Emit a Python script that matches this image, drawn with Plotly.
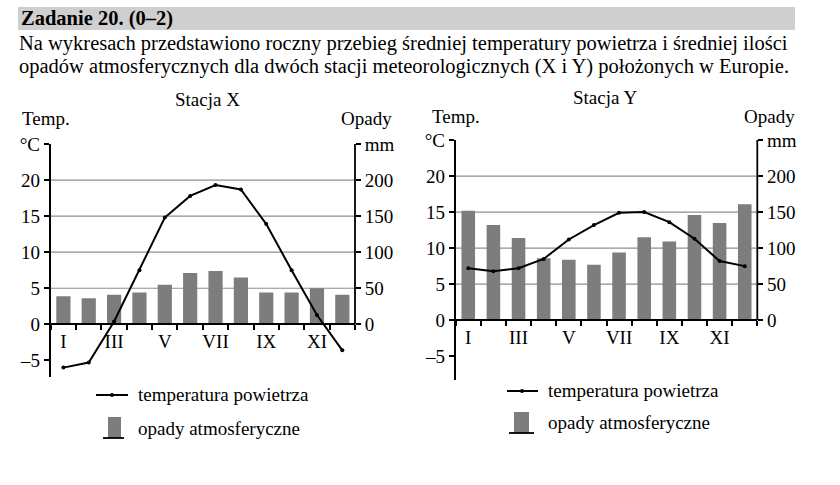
import plotly.graph_objects as go

W, H = 840, 485
FONT = "Liberation Serif, Times New Roman, serif"

months = ["I", "II", "III", "IV", "V", "VI", "VII", "VIII", "IX", "X", "XI", "XII"]
month_labels = ["I", "", "III", "", "V", "", "VII", "", "IX", "", "XI", ""]

temp_x = [-6.0, -5.3, 0.4, 7.5, 14.8, 17.8, 19.3, 18.7, 13.9, 7.5, 1.3, -3.6]
precip_x = [39, 36, 41, 44, 55, 71, 74, 65, 44, 44, 50, 41]

temp_y = [7.2, 6.8, 7.2, 8.5, 11.2, 13.2, 14.9, 15.0, 13.6, 11.3, 8.2, 7.5]
precip_y = [152, 132, 114, 86, 84, 77, 94, 115, 109, 146, 135, 161]

temp_ticks = [-5, 0, 5, 10, 15, 20, 25]
temp_ticktext = ["\u20135", "0", "5", "10", "15", "20", "\u00b0C"]
precip_ticks = [0, 50, 100, 150, 200, 250]
precip_ticktext = ["0", "50", "100", "150", "200", "mm"]
grid_vals = [5, 10, 15, 20]

BAR_COLOR = "#7d7d7d"
GRID_COLOR = "#8f8f8f"


def px(x):
    return x / W


def py(y):
    return 1 - y / H


fig = go.Figure()

# Station X
fig.add_trace(go.Bar(x=months, y=precip_x, xaxis="x", yaxis="y", marker_color=BAR_COLOR,
                     marker_line_width=0, width=0.56, showlegend=False))
fig.add_trace(go.Scatter(x=months, y=temp_x, xaxis="x", yaxis="y2", mode="lines+markers",
                         line=dict(color="black", width=2), marker=dict(color="black", size=4),
                         showlegend=False))
# Station Y
fig.add_trace(go.Bar(x=months, y=precip_y, xaxis="x2", yaxis="y3", marker_color=BAR_COLOR,
                     marker_line_width=0, width=0.54, showlegend=False))
fig.add_trace(go.Scatter(x=months, y=temp_y, xaxis="x2", yaxis="y4", mode="lines+markers",
                         line=dict(color="black", width=2), marker=dict(color="black", size=4),
                         showlegend=False))

tickfont = dict(family=FONT, size=19, color="black")

panels = [
    ("xaxis", "yaxis", "yaxis2", "x", "y", "y2", (50.7, 355), (144, 377), 324.3, -7.3),
    ("xaxis2", "yaxis3", "yaxis4", "x2", "y3", "y4", (455.7, 757.3), (140, 380), 320, -8.3),
]

layout = dict(
    width=W, height=H, margin=dict(l=0, r=0, t=0, b=0, pad=0, autoexpand=False),
    paper_bgcolor="white", plot_bgcolor="rgba(0,0,0,0)",
    font=dict(family=FONT, color="black"), showlegend=False, barmode="overlay",
)
shapes = []
annotations = []

for xa, ya_p, ya_t, xr, yr_p, yr_t, (xl, xrgt), (yt, yb), xpos, tbot in panels:
    layout[xa] = dict(
        domain=[px(xl), px(xrgt)], anchor="free", position=py(xpos),
        type="category", range=[-0.5, 11.5],
        tickmode="array", tickvals=months, ticktext=month_labels, tickson="boundaries",
        tickangle=0, automargin=False,
        ticks="outside", ticklen=5, tickwidth=1.5, tickcolor="black",
        showline=True, linecolor="black", linewidth=1.8, showgrid=False, zeroline=False,
        tickfont=tickfont, fixedrange=True,
    )
    layout[ya_p] = dict(
        domain=[py(yb), py(yt)], anchor=xr, side="right", automargin=False,
        range=[tbot * 10, 250], tickmode="array", tickvals=precip_ticks, ticktext=precip_ticktext,
        ticks="outside", ticklen=5, tickwidth=1.5, tickcolor="black",
        showline=False, showgrid=False, zeroline=False, tickfont=tickfont, fixedrange=True,
    )
    layout[ya_t] = dict(
        overlaying=yr_p, anchor=xr, side="left", automargin=False,
        range=[tbot, 25], tickmode="array", tickvals=temp_ticks, ticktext=temp_ticktext,
        ticks="outside", ticklen=5, tickwidth=1.5, tickcolor="black",
        showline=True, linecolor="black", linewidth=1.8,
        showgrid=False, zeroline=False, tickfont=tickfont, fixedrange=True,
    )
    for g in grid_vals:
        shapes.append(dict(type="line", xref=f"{xr} domain", yref=yr_t, x0=0, x1=1, y0=g, y1=g,
                           line=dict(color=GRID_COLOR, width=1.2), layer="below"))
    shapes.append(dict(type="line", xref=f"{xr} domain", yref=yr_p, x0=1, x1=1, y0=0, y1=250,
                       line=dict(color="black", width=1.8), layer="above"))

# Header band
shapes.append(dict(type="rect", xref="paper", yref="paper", x0=px(18), x1=px(795), y0=py(30), y1=py(7),
                   fillcolor="#cfcfcf", line=dict(width=0), layer="below"))


def text(x, y, s, size=19, xanchor="left", bold=False):
    annotations.append(dict(
        x=px(x), y=py(y), xref="paper", yref="paper", text=f"<b>{s}</b>" if bold else s,
        showarrow=False, xanchor=xanchor, yanchor="middle",
        font=dict(family=FONT, size=size, color="black"),
    ))


text(19, 19, "Zadanie 20. (0\u20132)", size=20.5, bold=True)
text(17, 43, "Na wykresach przedstawiono roczny przebieg średniej temperatury powietrza i średniej ilości", size=20.5)
text(17, 67, "opadów atmosferycznych dla dwóch stacji meteorologicznych (X i Y) położonych w Europie.", size=20.5)

text(207, 100, "Stacja X", xanchor="center")
text(20, 118, "Temp.", xanchor="left")
text(394, 118, "Opady", xanchor="right")
text(605, 98, "Stacja Y", xanchor="center")
text(430, 116, "Temp.", xanchor="left")
text(797, 116, "Opady", xanchor="right")

for (lx0, lx1, ly, dotx, bx0, bx1, by0, by1, ux0, ux1, tx, t2y) in [
    (96, 128, 395, 112, 108, 121, 417, 438, 103, 124, 136, 428),
    (507, 538, 391, 522, 514, 529, 412, 433, 509, 534, 546, 422),
]:
    shapes.append(dict(type="line", xref="paper", yref="paper", x0=px(lx0), x1=px(lx1), y0=py(ly), y1=py(ly),
                       line=dict(color="black", width=2)))
    shapes.append(dict(type="circle", xref="paper", yref="paper", x0=px(dotx - 2), x1=px(dotx + 2),
                       y0=py(ly + 2), y1=py(ly - 2), fillcolor="black", line=dict(width=0)))
    shapes.append(dict(type="rect", xref="paper", yref="paper", x0=px(bx0), x1=px(bx1), y0=py(by1), y1=py(by0),
                       fillcolor=BAR_COLOR, line=dict(width=0)))
    shapes.append(dict(type="line", xref="paper", yref="paper", x0=px(ux0), x1=px(ux1), y0=py(by1), y1=py(by1),
                       line=dict(color="black", width=1.8)))
    text(tx, ly - 1, "temperatura powietrza")
    text(tx, t2y, "opady atmosferyczne")

layout["shapes"] = shapes
layout["annotations"] = annotations
fig.update_layout(**layout)

fig.write_html("out.html", config={"displayModeBar": False},
               post_script="document.body.style.margin='0';document.body.style.overflow='hidden';")
